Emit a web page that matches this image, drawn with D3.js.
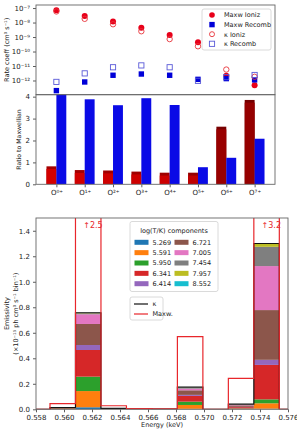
<!DOCTYPE html>
<html>
<head>
<meta charset="utf-8">
<script src="https://cdn.jsdelivr.net/npm/d3@7"></script>
<style>
  body { margin: 0; background: #fff; }
  svg text { font-family: "DejaVu Sans", sans-serif; fill: #222; }
</style>
</head>
<body>
<div id="chart"></div>
<script>
// ---- data ----
const ions = ['O⁰⁺', 'O¹⁺', 'O²⁺', 'O³⁺', 'O⁴⁺', 'O⁵⁺', 'O⁶⁺', 'O⁷⁺'];

// rate coefficients (cm^3 s^-1)
const maxwIoniz  = [7.0e-8, 2.8e-8, 1.2e-8, 4.4e-9, 1.4e-9, 4.3e-10, 2.1e-12, 4.7e-13];
const maxwRecomb = [2.0e-13, 7.9e-13, 2.3e-12, 2.8e-12, 2.3e-12, 1.2e-12, 1.35e-12, 1.1e-12];
const kappaIoniz  = [5.8e-8, 1.8e-8, 7.6e-9, 2.5e-9, 7.2e-10, 2.3e-10, 5.7e-12, 1.8e-12];
const kappaRecomb = [8.0e-13, 3.1e-12, 8.2e-12, 1.1e-11, 8.2e-12, 0.95e-12, 1.7e-12, 2.4e-12];

// ratio to Maxwellian (kappa / Maxw)
const ionizRatio  = [0.82, 0.65, 0.63, 0.58, 0.53, 0.53, 2.63, 3.85];
const ionizLower  = [0.70, 0.52, 0.50, 0.45, 0.40, 0.40, 2.51, 3.73];
const recombRatio = [4.5, 3.88, 3.61, 3.93, 3.62, 0.78, 1.21, 2.08];
const ionizColor  = ['#d30000', '#d00000', '#cf0000', '#cd0000', '#cc0000', '#c00000', '#990000', '#950000'];

// emissivity histogram (x1e-15 ph cm^3 s^-1 bin^-1)
const binStart = [0.55900, 0.56082, 0.56264, 0.56446, 0.56628, 0.56810, 0.56992, 0.57174, 0.57356];
const binEnd   = [0.56082, 0.56264, 0.56446, 0.56628, 0.56810, 0.56992, 0.57174, 0.57356, 0.57538];
const maxwEmis  = [0.045, 2.5, 0.028, 0.005, 0.004, 0.57, 0.0, 0.243, 3.2];
const kappaEmis = [0.013, 0.757, 0.008, 0.003, 0.002, 0.174, 0.0, 0.040, 1.300];
const offScale  = [{bin: 1, label: '2.5'}, {bin: 8, label: '3.2'}];

const logT = ['5.269', '5.591', '5.950', '6.341', '6.414', '6.721', '7.005', '7.454', '7.957', '8.552'];
const compColors = ['#1f77b4', '#ff7f0e', '#2ca02c', '#d62728', '#9467bd',
                    '#8c564b', '#e377c2', '#7f7f7f', '#bcbd22', '#17becf'];
// one row per bin, one value per log(T) component
const components = [
  [0.001, 0.004, 0.002, 0.003, 0.0005, 0.001, 0.0005, 0, 0, 0],
  [0.016, 0.127, 0.113, 0.209, 0.039, 0.165, 0.076, 0.008, 0.003, 0.001],
  [0.0005, 0.002, 0.002, 0.002, 0.0005, 0.0005, 0.0003, 0, 0, 0],
  [0, 0.001, 0.001, 0.0005, 0, 0, 0, 0, 0, 0],
  [0, 0.0005, 0.0005, 0.0005, 0, 0.0005, 0, 0, 0, 0],
  [0.004, 0.030, 0.026, 0.045, 0.008, 0.036, 0.013, 0.005, 0.002, 0.001],
  [0, 0, 0, 0, 0, 0, 0, 0, 0, 0],
  [0.001, 0.003, 0.003, 0.010, 0.002, 0.012, 0.005, 0.002, 0.001, 0],
  [0.005, 0.042, 0.031, 0.270, 0.040, 0.390, 0.345, 0.151, 0.024, 0.002]
];

const rateTicks  = [1e-7, 1e-8, 1e-9, 1e-10, 1e-11, 1e-12];
const ratioTicks = [0, 1, 2, 3, 4];
const emisTicks  = [0, 0.2, 0.4, 0.6, 0.8, 1.0, 1.2, 1.4];
const energyTicks = [0.558, 0.560, 0.562, 0.564, 0.566, 0.568, 0.570, 0.572, 0.574, 0.576];

// ---- setup ----
const w = 297, h = 432;
const svg = d3.select('#chart').append('svg')
  .attr('width', w).attr('height', h);

const pA = {x0: 36, x1: 275, y0: 5, y1: 94.7};     // rates
const pB = {x0: 36, x1: 275, y0: 94.7, y1: 184.3}; // ratios
const pC = {x0: 36, x1: 288, y0: 218, y1: 409.3};  // emissivity

const xIon = d3.scaleLinear().domain([-0.72, 7.72]).range([pA.x0, pA.x1]);
const yRate = d3.scaleLog().domain([Math.pow(10, -12.98), Math.pow(10, -6.79)]).range([pA.y1, pA.y0]);
const yRatio = d3.scaleLinear().domain([0, 4.09]).range([pB.y1, pB.y0]);
const xE = d3.scaleLinear().domain([0.558, 0.576]).range([pC.x0, pC.x1]);
const yE = d3.scaleLinear().domain([0, 1.5]).range([pC.y1, pC.y0]);

const supMap = {'-': '⁻', '0': '⁰', '1': '¹', '2': '²', '3': '³', '4': '⁴',
                '5': '⁵', '6': '⁶', '7': '⁷', '8': '⁸', '9': '⁹'};
function sup(n) {
  return String(n).split('').map(c => supMap[c] || c).join('');
}

const defs = svg.append('defs');
[['clipA', pA], ['clipB', pB], ['clipC', pC]].forEach(([id, p]) => {
  defs.append('clipPath').attr('id', id).append('rect')
    .attr('x', p.x0).attr('y', p.y0)
    .attr('width', p.x1 - p.x0).attr('height', p.y1 - p.y0);
});

function styleAxis(g) {
  g.select('.domain').remove();
  g.selectAll('.tick line').attr('stroke', '#333').attr('stroke-width', 0.8);
  g.selectAll('.tick text').attr('font-size', '7px').attr('fill', '#222');
}

function frame(p) {
  svg.append('rect')
    .attr('x', p.x0).attr('y', p.y0)
    .attr('width', p.x1 - p.x0).attr('height', p.y1 - p.y0)
    .attr('fill', 'none').attr('stroke', '#666').attr('stroke-width', 0.9);
}

// ---- panel A: rate coefficients ----
const gA = svg.append('g').attr('clip-path', 'url(#clipA)');

gA.selectAll('circle.mi').data(maxwIoniz).enter().append('circle')
  .attr('class', 'mi')
  .attr('cx', (d, i) => xIon(i)).attr('cy', d => yRate(d))
  .attr('r', 3).attr('fill', '#e8001a');

gA.selectAll('rect.mr').data(maxwRecomb).enter().append('rect')
  .attr('class', 'mr')
  .attr('x', (d, i) => xIon(i) - 2.7).attr('y', d => yRate(d) - 2.7)
  .attr('width', 5.4).attr('height', 5.4).attr('fill', '#0000d8');

gA.selectAll('circle.ki').data(kappaIoniz).enter().append('circle')
  .attr('class', 'ki')
  .attr('cx', (d, i) => xIon(i)).attr('cy', d => yRate(d))
  .attr('r', 2.7).attr('fill', 'none').attr('stroke', '#e8333a').attr('stroke-width', 0.9);

gA.selectAll('rect.kr').data(kappaRecomb).enter().append('rect')
  .attr('class', 'kr')
  .attr('x', (d, i) => xIon(i) - 2.6).attr('y', d => yRate(d) - 2.6)
  .attr('width', 5.2).attr('height', 5.2)
  .attr('fill', 'none').attr('stroke', '#5a5ad8').attr('stroke-width', 0.9);

svg.append('g')
  .attr('transform', 'translate(' + pA.x0 + ',0)')
  .call(d3.axisLeft(yRate).tickValues(rateTicks).tickSize(3)
    .tickFormat(d => '10' + sup(Math.round(Math.log10(d)))))
  .call(styleAxis);
frame(pA);

// legend A
const legA = svg.append('g');
legA.append('rect').attr('x', 202).attr('y', 9).attr('width', 69).attr('height', 41)
  .attr('rx', 2).attr('fill', '#fff').attr('stroke', '#d0d0d0').attr('stroke-width', 0.8);
const legAItems = ['Maxw Ioniz', 'Maxw Recomb', 'κ Ioniz', 'κ Recomb'];
legAItems.forEach((t, i) => {
  const yy = 15 + i * 9.6;
  if (i === 0) legA.append('circle').attr('cx', 212).attr('cy', yy).attr('r', 2.8).attr('fill', '#e8001a');
  if (i === 1) legA.append('rect').attr('x', 209.3).attr('y', yy - 2.7).attr('width', 5.4).attr('height', 5.4).attr('fill', '#0000d8');
  if (i === 2) legA.append('circle').attr('cx', 212).attr('cy', yy).attr('r', 2.5)
    .attr('fill', 'none').attr('stroke', '#e8333a').attr('stroke-width', 0.9);
  if (i === 3) legA.append('rect').attr('x', 209.4).attr('y', yy - 2.6).attr('width', 5.2).attr('height', 5.2)
    .attr('fill', 'none').attr('stroke', '#5a5ad8').attr('stroke-width', 0.9);
  legA.append('text').attr('x', 224).attr('y', yy + 2.3).attr('font-size', '6.5px').text(t);
});

// rotated y label
svg.append('text')
  .attr('transform', 'translate(9,' + ((pA.y0 + pA.y1) / 2) + ') rotate(-90)')
  .attr('text-anchor', 'middle').attr('font-size', '6.5px')
  .text('Rate coeff (cm³ s⁻¹)');

// ---- panel B: ratio to Maxwellian ----
const gB = svg.append('g').attr('clip-path', 'url(#clipB)');
const barW = 0.35;

gB.selectAll('rect.ib').data(ionizRatio).enter().append('rect')
  .attr('class', 'ib')
  .attr('x', (d, i) => xIon(i - barW)).attr('width', (d, i) => xIon(i) - xIon(i - barW))
  .attr('y', d => yRatio(d)).attr('height', d => yRatio(0) - yRatio(d))
  .attr('fill', (d, i) => d3.color(ionizColor[i]).darker(0.7));

gB.selectAll('rect.il').data(ionizLower).enter().append('rect')
  .attr('class', 'il')
  .attr('x', (d, i) => xIon(i - barW)).attr('width', (d, i) => xIon(i) - xIon(i - barW))
  .attr('y', d => yRatio(d)).attr('height', d => yRatio(0) - yRatio(d))
  .attr('fill', (d, i) => ionizColor[i]);

gB.selectAll('rect.rb').data(recombRatio).enter().append('rect')
  .attr('class', 'rb')
  .attr('x', (d, i) => xIon(i)).attr('width', (d, i) => xIon(i + barW) - xIon(i))
  .attr('y', d => yRatio(d)).attr('height', d => yRatio(0) - yRatio(d))
  .attr('fill', '#0a0ae6');

svg.append('g')
  .attr('transform', 'translate(' + pB.x0 + ',0)')
  .call(d3.axisLeft(yRatio).tickValues(ratioTicks).tickSize(3).tickFormat(d3.format('d')))
  .call(styleAxis);
svg.append('g')
  .attr('transform', 'translate(0,' + pB.y1 + ')')
  .call(d3.axisBottom(xIon).tickValues(d3.range(ions.length)).tickSize(3).tickFormat(i => ions[i]))
  .call(styleAxis);
frame(pB);

svg.append('text')
  .attr('transform', 'translate(21,' + ((pB.y0 + pB.y1) / 2) + ') rotate(-90)')
  .attr('text-anchor', 'middle').attr('font-size', '6.2px')
  .text('Ratio to Maxwellian');

// ---- panel C: emissivity ----
const gC = svg.append('g').attr('clip-path', 'url(#clipC)');

const keys = d3.range(logT.length);
const stacked = d3.stack().keys(keys).value((row, k) => row[k])(components);

stacked.forEach((layer, k) => {
  gC.append('g').selectAll('rect').data(layer).enter().append('rect')
    .attr('x', (d, i) => xE(binStart[i]))
    .attr('width', (d, i) => xE(binEnd[i]) - xE(binStart[i]))
    .attr('y', d => yE(d[1]))
    .attr('height', d => Math.max(0, yE(d[0]) - yE(d[1])))
    .attr('fill', compColors[k]);
});

// step outlines
function stepPoints(vals) {
  const pts = [[0.558, 0]];
  vals.forEach((v, i) => pts.push([binStart[i], v]));
  pts.push([binEnd[binEnd.length - 1], 0]);
  pts.push([0.576, 0]);
  return pts;
}
const stepLine = d3.line().x(d => xE(d[0])).y(d => yE(d[1])).curve(d3.curveStepAfter);

gC.append('path').datum(stepPoints(kappaEmis))
  .attr('d', stepLine).attr('fill', 'none').attr('stroke', '#111').attr('stroke-width', 1.2);
gC.append('path').datum(stepPoints(maxwEmis))
  .attr('d', stepLine).attr('fill', 'none').attr('stroke', '#e8262b').attr('stroke-width', 1.2);

// off-scale labels
offScale.forEach(o => {
  const cx = xE((binStart[o.bin] + binEnd[o.bin]) / 2);
  svg.append('text').attr('x', cx - 5).attr('y', 227.5)
    .attr('font-size', '8px').style('fill', '#e8262b')
    .text('↑' + o.label);
});

svg.append('g')
  .attr('transform', 'translate(' + pC.x0 + ',0)')
  .call(d3.axisLeft(yE).tickValues(emisTicks).tickSize(3).tickFormat(d3.format('.1f')))
  .call(styleAxis);
svg.append('g')
  .attr('transform', 'translate(0,' + pC.y1 + ')')
  .call(d3.axisBottom(xE).tickValues(energyTicks).tickSize(3).tickFormat(d3.format('.3f')))
  .call(styleAxis);
frame(pC);

svg.append('text')
  .attr('transform', 'translate(9,' + ((pC.y0 + pC.y1) / 2) + ') rotate(-90)')
  .attr('text-anchor', 'middle').attr('font-size', '6.5px')
  .text('Emissivity');
svg.append('text')
  .attr('transform', 'translate(18,' + ((pC.y0 + pC.y1) / 2) + ') rotate(-90)')
  .attr('text-anchor', 'middle').attr('font-size', '6.5px')
  .text('(×10⁻¹⁵ ph cm³ s⁻¹ bin⁻¹)');
svg.append('text')
  .attr('x', (pC.x0 + pC.x1) / 2).attr('y', 427)
  .attr('text-anchor', 'middle').attr('font-size', '6.5px')
  .text('Energy (keV)');

// legend C1: components
const legC = svg.append('g');
legC.append('rect').attr('x', 130).attr('y', 221.5).attr('width', 88).attr('height', 70)
  .attr('rx', 2).attr('fill', '#fff').attr('stroke', '#d0d0d0').attr('stroke-width', 0.8);
legC.append('text').attr('x', 174).attr('y', 232.5).attr('text-anchor', 'middle')
  .attr('font-size', '6.5px').text('log(T/K) components');
logT.forEach((t, k) => {
  const col = Math.floor(k / 5), row = k % 5;
  const px = col === 0 ? 134.5 : 174.5;
  const yy = 242.3 + row * 10.35;
  legC.append('rect').attr('x', px).attr('y', yy - 2.5).attr('width', 14).attr('height', 5)
    .attr('fill', compColors[k]);
  legC.append('text').attr('x', px + 18).attr('y', yy + 2.3).attr('font-size', '6.5px').text(t);
});

// legend C2: line styles
const legD = svg.append('g');
legD.append('rect').attr('x', 130).attr('y', 297).attr('width', 33).attr('height', 23)
  .attr('rx', 2).attr('fill', '#fff').attr('stroke', '#d0d0d0').attr('stroke-width', 0.8);
[['κ', '#111'], ['Maxw.', '#e8262b']].forEach(([t, c], i) => {
  const yy = 304 + i * 10;
  legD.append('line').attr('x1', 134).attr('x2', 148).attr('y1', yy).attr('y2', yy)
    .attr('stroke', c).attr('stroke-width', 1.2);
  legD.append('text').attr('x', 152.5).attr('y', yy + 2.3).attr('font-size', '6.5px').text(t);
});
</script>
</body>
</html>
